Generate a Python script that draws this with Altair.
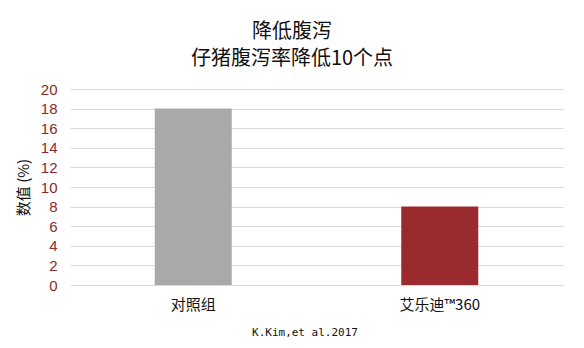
import altair as alt
import pandas as pd

categories = ["对照组", "艾乐迪™360"]
values = [18, 8]
colors = ["#A9A9A9", "#9B2A2E"]
title_lines = ["降低腹泻", "仔猪腹泻率降低10个点"]
y_ticks = [0, 2, 4, 6, 8, 10, 12, 14, 16, 18, 20]
source_text = "K.Kim,et al.2017"

df = pd.DataFrame({"cat": categories, "val": values, "color": colors})

W, H = 488, 196
CJK = "Noto Sans CJK SC"

bars = alt.Chart(df).mark_bar(size=77).encode(
    x=alt.X("cat:N", sort=categories, title=None,
            axis=alt.Axis(labelAngle=0, labelFont=CJK, labelFontSize=15,
                          labelColor="#111111", labelPadding=12, ticks=False,
                          domain=False, grid=False),
            scale=alt.Scale(paddingInner=0, paddingOuter=0, range=[0, 493])),
    y=alt.Y("val:Q", title="数值 (%)",
            scale=alt.Scale(domain=[0, 20], nice=False),
            axis=alt.Axis(values=y_ticks, labelFont="Liberation Sans", labelFontSize=15,
                          labelColor="#8B2A2A", labelPadding=13, ticks=False, domain=False,
                          gridColor="#d9d9d9", gridWidth=1,
                          titleFont=CJK, titleFontSize=15, titleFontWeight="normal",
                          titleColor="#111111", titleAngle=-90, titleX=-47, titleY=98,
                          titleAlign="center", titleBaseline="middle")),
    color=alt.Color("color:N", scale=None),
)

t1 = alt.Chart(pd.DataFrame({"t": [title_lines[0]]})).mark_text(
    font=CJK, fontSize=20, color="#111111", align="center", baseline="middle"
).encode(text="t:N", x=alt.value(222), y=alt.value(-57))

t2 = alt.Chart(pd.DataFrame({"t": [title_lines[1]]})).mark_text(
    font=CJK, fontSize=20, color="#111111", align="center", baseline="middle"
).encode(text="t:N", x=alt.value(222), y=alt.value(-30))

src = alt.Chart(pd.DataFrame({"t": [source_text]})).mark_text(
    font="DejaVu Sans Mono", fontSize=11, color="#111111", align="center", baseline="middle"
).encode(text="t:N", x=alt.value(235), y=alt.value(H + 48))

chart = alt.layer(bars, t1, t2, src).properties(
    width=W, height=H,
    autosize=alt.AutoSizeParams(type="none"),
    padding={"left": 70, "top": 89, "right": 26, "bottom": 63},
    background="white",
).configure_view(stroke=None)

chart.save("out.html", embed_options={"renderer": "svg", "actions": False})
